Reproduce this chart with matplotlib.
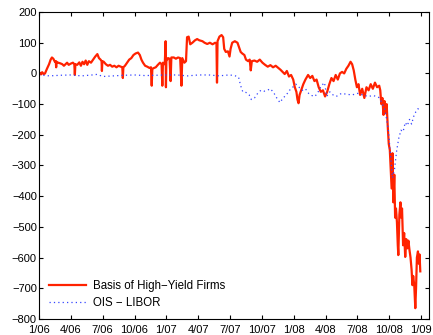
import numpy as np
import matplotlib
matplotlib.use("Agg")
import matplotlib.pyplot as plt

plt.rcParams['font.family'] = ['Liberation Sans', 'DejaVu Sans']

# x = months since 1/06
basis_month = [
    0.00, 0.10, 0.20, 0.30, 0.45, 0.57, 0.75, 0.95, 1.10, 1.22, 1.35, 1.50, 1.58, 1.62, 1.66,
    1.80, 2.00, 2.20, 2.35, 2.50, 2.65, 2.80, 3.00, 3.20, 3.33, 3.38, 3.43, 3.60, 3.80, 3.95,
    4.10, 4.25, 4.40, 4.55, 4.70, 4.90, 5.10, 5.30, 5.50, 5.65, 5.80, 5.90, 5.93, 5.97, 6.10,
    6.30, 6.50, 6.70, 6.90, 7.10, 7.30, 7.50, 7.70, 7.85, 7.90, 7.95, 8.10, 8.30, 8.50, 8.70,
    8.90, 9.10, 9.33, 9.50, 9.65, 9.80, 10.00, 10.20, 10.40, 10.55, 10.62, 10.68, 10.85, 11.00,
    11.20, 11.40, 11.55, 11.62, 11.68, 11.85, 11.93, 11.96, 12.00, 12.15, 12.30, 12.40, 12.47,
    12.70, 12.90, 13.10, 13.30, 13.42, 13.50, 13.70, 13.85, 13.95, 14.10, 14.25, 14.45, 14.70,
    14.90, 15.10, 15.40, 15.60, 15.85, 16.10, 16.35, 16.60, 16.72, 16.77, 16.82, 17.00, 17.20,
    17.35, 17.45, 17.60, 17.80, 17.95, 18.05, 18.20, 18.45, 18.70, 18.85, 19.00, 19.15, 19.35,
    19.50, 19.70, 19.85, 19.95, 20.05, 20.30, 20.55, 20.80, 21.05, 21.30, 21.55, 21.80, 22.05,
    22.30, 22.55, 22.75, 22.95, 23.15, 23.35, 23.55, 23.75, 23.95, 24.10, 24.25, 24.35, 24.45,
    24.55, 24.70, 24.90, 25.10, 25.35, 25.55, 25.75, 25.95, 26.15, 26.35, 26.55, 26.75, 26.95,
    27.15, 27.35, 27.55, 27.75, 27.95, 28.15, 28.35, 28.55, 28.75, 28.95, 29.15, 29.35, 29.50,
    29.65, 29.80, 29.95, 30.10, 30.25, 30.45, 30.65, 30.85, 31.05, 31.25, 31.45, 31.65, 31.85,
    32.05, 32.15, 32.25, 32.35, 32.45, 32.55, 32.65, 32.75, 32.85, 32.95, 33.05, 33.15, 33.22,
    33.30, 33.38, 33.47, 33.55, 33.63, 33.72, 33.80, 33.85, 33.95, 34.05, 34.12, 34.20, 34.30,
    34.40, 34.50, 34.60, 34.70, 34.80, 34.90, 35.00, 35.10, 35.18, 35.25, 35.35, 35.45, 35.52,
    35.60, 35.70, 35.78, 35.85, 35.92,
]
basis_value = [
    -5, 2, -3, 4, -2, 0, 15, 30, 45, 52, 48, 38, 40, 20, 38,
    35, 33, 30, 25, 30, 35, 28, 32, 35, 30, -5, 30, 28, 36, 25,
    38, 30, 42, 28, 40, 35, 45, 55, 63, 50, 45, 40, 8, 40, 38,
    30, 25, 28, 22, 25, 20, 25, 22, 20, -15, 20, 25, 35, 45, 50,
    60, 65, 68, 60, 45, 35, 25, 22, 18, 20, -40, 15, 18, 20,
    28, 35, 30, -40, 35, 30, 105, -45, 40, 50, 48, -25, 52,
    52, 48, 52, 50, -40, 50, 35, 40, 118, 120, 95, 100, 108,
    112, 108, 105, 100, 96, 100, 95, 100, 98, -30, 105, 120, 125,
    118, 80, 70, 72, 55, 80, 100, 105, 100, 85, 70, 65, 60,
    45, 40, 45, 10, 40, 42, 38, 45, 35, 28, 22, 27, 20,
    25, 18, 12, 5, -2, 8, -10, -5, -20, -45, -60, -85, -97,
    -70, -55, -35, -20, -5, -15, -8, -25, -20, -45, -60, -55, -75,
    -60, -35, -15, -25, -5, -20, 0, 5, 0, 15, 25, 38, 30,
    10, -20, -45, -35, -70, -50, -80, -45, -55, -35, -50, -30, -45,
    -40, -55, -100, -80, -135, -90, -130, -100, -170, -230, -250, -320, -375,
    -260, -420, -330, -470, -440, -485, -560, -592, -460, -420, -470, -440, -560,
    -520, -598, -540, -570, -545, -575, -600, -640, -690, -660, -690, -765, -700,
    -600, -580, -620, -590, -645,
]

ois_month = [
    0.0, 1.0, 2.0, 3.0, 4.0, 5.0, 5.5, 6.0, 7.0, 8.0, 9.0, 10.0, 11.0, 12.0, 13.0, 14.0,
    15.0, 16.0, 17.0, 17.5, 18.0, 18.5, 18.8, 19.0, 19.2, 19.5, 19.8, 20.0, 20.3, 20.6,
    20.9, 21.2, 21.5, 21.8, 22.1, 22.4, 22.7, 23.0, 23.3, 23.6, 23.9, 24.2, 24.5, 24.8,
    25.1, 25.4, 25.7, 26.0, 26.3, 26.6, 26.9, 27.1, 27.4, 27.7, 28.0, 28.5, 29.0, 29.5,
    30.0, 30.5, 31.0, 31.5, 32.0, 32.3, 32.6, 32.9, 33.1, 33.3, 33.5, 33.7, 33.9, 34.1,
    34.3, 34.5, 34.7, 34.9, 35.1, 35.3, 35.5, 35.7, 35.9,
]
ois_value = [
    -5, -8, -6, -5, -8, -5, -3, -10, -8, -6, -5, -7, -6, -5, -5, -8,
    -5, -5, -8, -6, -5, -8, -12, -40, -60, -62, -70, -85, -80, -65,
    -55, -58, -55, -50, -62, -80, -95, -80, -70, -55, -45, -35, -45, -55,
    -50, -65, -72, -75, -60, -40, -30, -75, -60, -70, -75, -65, -68, -70,
    -65, -70, -75, -72, -78, -95, -120, -180, -260, -340, -310, -250, -210, -185,
    -190, -160, -170, -150, -165, -140, -125, -115, -120,
]

tick_labels = ['1/06', '4/06', '7/06', '10/06', '1/07', '4/07', '7/07',
               '10/07', '1/08', '4/08', '7/08', '10/08', '1/09']

fig = plt.figure(figsize=(4.33, 3.35), dpi=100)
ax = fig.add_axes([0.090, 0.048, 0.901, 0.916])

ax.plot(basis_month, basis_value, color='#ff2200', lw=1.6,
        label='Basis of High\u2212Yield Firms')
ax.plot(ois_month, ois_value, color='#3344ff', lw=0.9, ls=(0, (1, 2.5)),
        label='OIS \u2212 LIBOR')

ax.set_xlim(0, 36.75)
ax.set_ylim(-800, 200)
ax.set_xticks(np.arange(0, 37, 3))
ax.set_xticklabels(tick_labels)
ax.set_yticks(np.arange(-800, 201, 100))
ax.tick_params(direction='in', top=True, right=True, length=3, width=0.8,
               labelsize=8)
ax.tick_params(axis='y', pad=1.5)
ax.tick_params(axis='x', pad=4.5)
for s in ax.spines.values():
    s.set_linewidth(0.8)

ax.legend(loc='lower left', frameon=False, fontsize=8.3, handlelength=3.2,
          handletextpad=0.6, borderaxespad=0.5, labelspacing=0.4)

fig.savefig('out.png', dpi=100)
